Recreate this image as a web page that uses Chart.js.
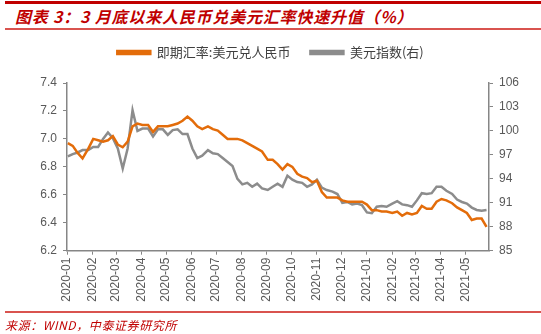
<!DOCTYPE html>
<html>
<head>
<meta charset="utf-8">
<script src="https://cdn.jsdelivr.net/npm/chart.js@4.4.1/dist/chart.umd.min.js"></script>
<style>
  body { margin: 0; background: #fff; }
  #wrap { position: relative; width: 541px; height: 334px; background: #fff; overflow: hidden; }
  .rule { position: absolute; left: 5px; right: 0; }
  .title {
    position: absolute; left: 15px; top: 6px;
    font-family: "Noto Sans CJK SC", sans-serif; font-size: 16px; font-weight: bold; font-style: italic;
    color: #c00000; line-height: 20px; white-space: nowrap; letter-spacing: 0.8px;
  }
  .source {
    position: absolute; left: 5px; top: 317px;
    font-family: "Noto Sans CJK SC", sans-serif; font-size: 12px; font-style: italic;
    color: #c00000; line-height: 16px; white-space: nowrap; letter-spacing: 0.6px;
  }
  canvas { position: absolute; left: 0; top: 0; }
</style>
</head>
<body>
<div id="wrap">
  <div class="rule" style="top:1px;height:3px;background:#c00000"></div>
  <div class="title">图表 3：3 月底以来人民币兑美元汇率快速升值（%）</div>
  <div class="rule" style="top:28px;height:2px;background:#d9534f"></div>
  <canvas id="chart" width="541" height="334"></canvas>
  <div class="rule" style="top:311px;height:2px;background:#d9534f"></div>
  <div class="source">来源：WIND，中泰证券研究所</div>
</div>
<script>
// dates (roughly every 6 days)
let dates = [
  "2020-01-02","2020-01-08","2020-01-14","2020-01-20","2020-01-27","2020-02-02","2020-02-08","2020-02-14","2020-02-20","2020-02-26",
  "2020-03-03","2020-03-09","2020-03-15","2020-03-21","2020-03-27","2020-04-02","2020-04-09","2020-04-15","2020-04-21","2020-04-27",
  "2020-05-03","2020-05-09","2020-05-15","2020-05-21","2020-05-27","2020-06-02","2020-06-08","2020-06-14","2020-06-21","2020-06-27",
  "2020-07-03","2020-07-09","2020-07-15","2020-07-21","2020-07-27","2020-08-02","2020-08-08","2020-08-14","2020-08-20","2020-08-26",
  "2020-09-02","2020-09-08","2020-09-14","2020-09-20","2020-09-26","2020-10-02","2020-10-08","2020-10-14","2020-10-20","2020-10-26",
  "2020-11-01","2020-11-07","2020-11-13","2020-11-20","2020-11-26","2020-12-02","2020-12-08","2020-12-14","2020-12-20","2020-12-26",
  "2021-01-01","2021-01-07","2021-01-13","2021-01-19","2021-01-25","2021-02-01","2021-02-07","2021-02-13","2021-02-19","2021-02-25",
  "2021-03-03","2021-03-09","2021-03-15","2021-03-21","2021-03-27","2021-04-02","2021-04-08","2021-04-15","2021-04-21","2021-04-27",
  "2021-05-03","2021-05-09","2021-05-15","2021-05-21","2021-05-27"
]

// 即期汇率:美元兑人民币 (left axis)
let usdcny = [
  6.97,6.95,6.90,6.86,6.93,7.00,6.99,6.98,6.99,7.02,
  6.96,6.94,6.98,7.09,7.11,7.10,7.10,7.05,7.09,7.09,
  7.09,7.10,7.11,7.13,7.16,7.13,7.09,7.07,7.09,7.07,
  7.06,7.03,7.00,7.00,7.00,6.99,6.97,6.95,6.93,6.91,
  6.85,6.85,6.82,6.78,6.82,6.80,6.75,6.73,6.72,6.69,
  6.70,6.62,6.58,6.58,6.58,6.56,6.55,6.55,6.55,6.55,
  6.53,6.49,6.49,6.48,6.48,6.47,6.48,6.45,6.47,6.46,
  6.47,6.52,6.50,6.50,6.55,6.57,6.56,6.54,6.51,6.49,
  6.47,6.42,6.43,6.43,6.37
]

// 美元指数 (right axis)
let dxy = [
  96.8,97.1,97.3,97.6,97.6,98.0,98.0,99.0,99.8,99.1,
  97.8,95.3,97.8,102.6,100.0,100.3,100.3,99.3,100.2,100.2,
  99.5,100.1,100.2,99.6,99.6,97.8,96.6,96.9,97.6,97.2,
  97.1,96.6,96.1,95.6,94.0,93.3,93.5,93.0,93.4,92.8,
  92.6,93.0,93.4,93.0,94.4,93.9,93.6,93.5,93.0,93.3,
  93.9,92.9,92.6,92.4,92.1,91.0,91.1,90.8,90.9,90.7,
  89.8,89.7,90.5,90.6,90.5,90.9,91.2,90.8,90.7,90.5,
  91.3,92.2,92.1,92.2,93.0,93.0,92.5,92.1,91.4,91.1,
  90.9,90.4,90.1,90.0,90.1
]

let monthLabels = [
  "2020-01","2020-02","2020-03","2020-04","2020-05","2020-06","2020-07","2020-08","2020-09",
  "2020-10","2020-11","2020-12","2021-01","2021-02","2021-03","2021-04","2021-05"
]

let startDate = "2020-01-01"
let endDate = "2021-05-30"

function dayIndex(d){
  // days since startDate
  return Math.round((Date.parse(d) - Date.parse(startDate)) / 86400000)
}

let monthTicks = monthLabels.map(m => dayIndex(m + "-01"))

let orange = "#e36c0a"
let grey = "#8c8c8c"
let axisColor = "#868686"
let tickFont = {family: "'Liberation Sans', Arial, sans-serif", size: 12}

// leave some room between the legend and the plot
let legendGap = {
  id: 'legendGap',
  beforeInit: function(chart){
    let fit = chart.legend.fit
    chart.legend.fit = function(){
      fit.bind(chart.legend)()
      this.height += 14
    }
  }
}

let ctx = document.getElementById('chart').getContext('2d')
let chart = new Chart(ctx, {
  type: 'line',
  data: {
    datasets: [{
      label: '即期汇率:美元兑人民币',
      data: dates.map((d, i) => ({x: dayIndex(d), y: usdcny[i]})),
      borderColor: orange,
      backgroundColor: orange,
      borderWidth: 2.5,
      pointRadius: 0,
      yAxisID: 'y'
    }, {
      label: '美元指数(右)',
      data: dates.map((d, i) => ({x: dayIndex(d), y: dxy[i]})),
      borderColor: grey,
      backgroundColor: grey,
      borderWidth: 2.5,
      pointRadius: 0,
      yAxisID: 'y2'
    }]
  },
  plugins: [legendGap],
  options: {
    responsive: false,
    animation: false,
    layout: {padding: {left: 0, right: 0, top: 26, bottom: 0}},
    plugins: {
      tooltip: {enabled: false},
      legend: {
        position: 'top',
        labels: {
          boxWidth: 33,
          boxHeight: 3,
          padding: 20,
          color: '#404040',
          font: {family: "'Noto Sans CJK SC', sans-serif", size: 13}
        }
      }
    },
    scales: {
      x: {
        type: 'linear',
        min: 0,
        max: dayIndex(endDate),
        afterBuildTicks: function(scale){
          scale.ticks = monthTicks.map(v => ({value: v}))
        },
        afterFit: function(scale){ scale.height = 83.3 },
        grid: {drawOnChartArea: false, color: axisColor, tickLength: 4},
        border: {color: axisColor, width: 1.5},
        ticks: {
          autoSkip: false,
          minRotation: 90,
          maxRotation: 90,
          color: '#595959',
          font: tickFont,
          padding: 3,
          callback: function(value){
            let i = monthTicks.indexOf(value)
            return i >= 0 ? monthLabels[i] : ''
          }
        }
      },
      y: {
        position: 'left',
        min: 6.2,
        max: 7.4,
        afterFit: function(scale){ scale.width = 67 },
        grid: {drawOnChartArea: false, color: axisColor, tickLength: 4},
        border: {color: axisColor, width: 1.5},
        ticks: {
          stepSize: 0.2,
          color: '#595959',
          font: tickFont,
          padding: 6,
          callback: v => v.toFixed(1)
        }
      },
      y2: {
        position: 'right',
        min: 85,
        max: 106,
        afterFit: function(scale){ scale.width = 52 },
        grid: {drawOnChartArea: false, color: axisColor, tickLength: 4},
        border: {color: axisColor, width: 1.5},
        ticks: {
          stepSize: 3,
          color: '#595959',
          font: tickFont,
          padding: 6
        }
      }
    }
  }
})
</script>
</body>
</html>
